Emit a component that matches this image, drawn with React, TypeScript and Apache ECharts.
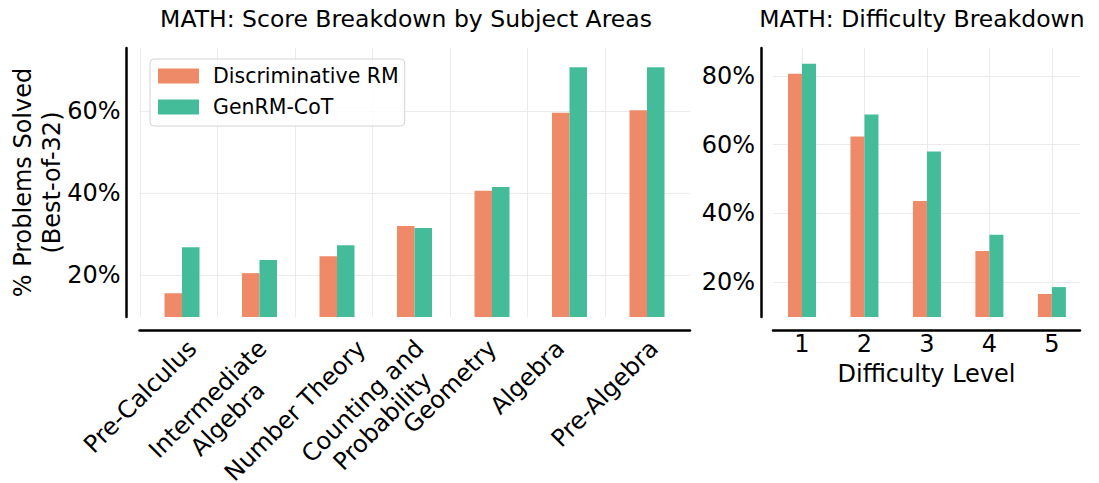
import React, { useEffect, useRef } from 'react';
import * as echarts from 'echarts';

// ---- data ----
const subjects = [
  'Pre-Calculus',
  'Intermediate\nAlgebra',
  'Number Theory',
  'Counting and\nProbability',
  'Geometry',
  'Algebra',
  'Pre-Algebra',
];
const subjectDiscRM = [15.6, 20.5, 24.6, 32.0, 40.6, 59.6, 60.2];
const subjectGenRM = [26.8, 23.7, 27.3, 31.5, 41.5, 70.7, 70.7];
const subjectTicks = [20, 40, 60];

const levels = ['1', '2', '3', '4', '5'];
const levelDiscRM = [80.6, 62.4, 43.6, 29.1, 16.6];
const levelGenRM = [83.5, 68.8, 58.0, 33.8, 18.6];
const levelTicks = [20, 40, 60, 80];

const seriesNames = ['Discriminative RM', 'GenRM-CoT'];
const titles = ['MATH: Score Breakdown by Subject Areas', 'MATH: Difficulty Breakdown'];

// ---- style ----
const FONT = '"DejaVu Sans"';
const ORANGE = '#EF8A68';
const GREEN = '#45BC99';
const GRID = '#ebebeb';
const TICK_FS = 24;
const LABEL_LH = 28;
const SUBJ_Y = [9.8, 75.4];
const LEVEL_Y = [9.9, 88.1];
const SUBJ_TICK_SHIFT = -0.545; // subject ticks sit left of the bar pairs

function measure(s: string, font: string): number {
  const ctx = document.createElement('canvas').getContext('2d');
  if (!ctx) return s.length * 12;
  ctx.font = font;
  return ctx.measureText(s).width;
}

export default function App() {
  const ref = useRef<HTMLDivElement>(null);
  useEffect(() => {
    if (!ref.current) return;
    const chart = echarts.init(ref.current, undefined, { renderer: 'svg' });

    const axisLine = { show: true, onZero: false, lineStyle: { color: '#000', width: 2.5 } };
    const labelStyle = { color: '#000', fontSize: TICK_FS, fontFamily: FONT };
    const subjectTickValues = subjects.map((_, i) => i + SUBJ_TICK_SHIFT);

    const option: any = {
      animation: false,
      backgroundColor: '#fff',
      title: [
        {
          text: titles[0], left: 406, top: 7, padding: 0, textAlign: 'center',
          textStyle: { fontSize: 23.5, fontWeight: 'normal', fontFamily: FONT, color: '#000' },
        },
        {
          text: titles[1], left: 922, top: 7, padding: 0, textAlign: 'center',
          textStyle: { fontSize: 23.5, fontWeight: 'normal', fontFamily: FONT, color: '#000' },
        },
      ],
      legend: {
        data: seriesNames,
        orient: 'vertical',
        left: 150,
        top: 59,
        icon: 'rect',
        itemWidth: 41,
        itemHeight: 15,
        itemGap: 10,
        padding: [6.5, 6, 8.5, 8],
        borderColor: '#d4d4d4',
        borderWidth: 1,
        borderRadius: 4,
        backgroundColor: 'rgba(255,255,255,0.8)',
        textStyle: { fontSize: 20.5, fontFamily: FONT, color: '#000', padding: [0, 0, 0, 9] },
      },
      grid: [
        // 0: left frame (spines, grid lines, y labels)
        { left: 139, width: 551, top: 48, height: 269 },
        // 1: left bars
        { left: 143.25, width: 542.5, top: 48, height: 269 },
        // 2: right frame
        { left: 773, width: 307, top: 48, height: 269 },
        // 3: right bars
        { left: 770.76, width: 312.36, top: 48, height: 269 },
      ],
      xAxis: [
        {
          gridIndex: 0, type: 'value', min: -0.555, max: 6.555, offset: 13,
          axisLine,
          axisTick: { show: false, customValues: subjectTickValues },
          axisLabel: { show: false },
          splitLine: { show: true, lineStyle: { color: GRID, width: 1 } },
        },
        { gridIndex: 1, type: 'category', data: subjects, show: false },
        {
          gridIndex: 2, type: 'value', min: 0.536, max: 5.45, offset: 13,
          axisLine,
          axisTick: { show: false, customValues: levels.map(Number) },
          axisLabel: { ...labelStyle, customValues: levels.map(Number), margin: 2 },
          splitLine: { show: true, lineStyle: { color: GRID, width: 1 } },
          name: 'Difficulty Level', nameLocation: 'middle', nameGap: 32, nameMoveOverlap: false,
          nameTextStyle: { ...labelStyle },
        },
        { gridIndex: 3, type: 'category', data: levels, show: false },
      ],
      yAxis: [
        {
          gridIndex: 0, type: 'value', min: SUBJ_Y[0], max: SUBJ_Y[1], offset: 13,
          axisLine,
          axisTick: { show: false, customValues: subjectTicks },
          axisLabel: { ...labelStyle, customValues: subjectTicks, formatter: '{value}%', margin: 6 },
          splitLine: { show: true, lineStyle: { color: GRID, width: 1 } },
          name: '% Problems Solved\n(Best-of-32)', nameLocation: 'middle', nameRotate: 90,
          nameGap: 60.5, nameMoveOverlap: false,
          nameTextStyle: { ...labelStyle, lineHeight: 29, align: 'center' },
        },
        { gridIndex: 1, type: 'value', min: SUBJ_Y[0], max: SUBJ_Y[1], startValue: SUBJ_Y[0], show: false },
        {
          gridIndex: 2, type: 'value', min: LEVEL_Y[0], max: LEVEL_Y[1], offset: 12,
          axisLine,
          axisTick: { show: false, customValues: levelTicks },
          axisLabel: { ...labelStyle, customValues: levelTicks, formatter: '{value}%', margin: 6 },
          splitLine: { show: true, lineStyle: { color: GRID, width: 1 } },
        },
        { gridIndex: 3, type: 'value', min: LEVEL_Y[0], max: LEVEL_Y[1], startValue: LEVEL_Y[0], show: false },
      ],
      series: [
        {
          type: 'bar', name: seriesNames[0], xAxisIndex: 1, yAxisIndex: 1, clip: true,
          data: subjectDiscRM, barWidth: 17.5, barGap: '0%', itemStyle: { color: ORANGE },
        },
        {
          type: 'bar', name: seriesNames[1], xAxisIndex: 1, yAxisIndex: 1, clip: true,
          data: subjectGenRM, barWidth: 17.5, barGap: '0%', itemStyle: { color: GREEN },
        },
        {
          type: 'bar', name: seriesNames[0], xAxisIndex: 3, yAxisIndex: 3, clip: true,
          data: levelDiscRM, barWidth: 14, barGap: '0%', itemStyle: { color: ORANGE },
        },
        {
          type: 'bar', name: seriesNames[1], xAxisIndex: 3, yAxisIndex: 3, clip: true,
          data: levelGenRM, barWidth: 14, barGap: '0%', itemStyle: { color: GREEN },
        },
      ],
    };
    chart.setOption(option);

    // Rotated subject tick labels (matplotlib style: rotated bounding box centred
    // on its tick, top of the box just under the spine). Positions come from the axes.
    const spineY = (chart.convertToPixel({ yAxisIndex: 0 }, SUBJ_Y[0]) as number) + 13;
    const pad = 4.5;
    const labels = subjects.map((s, i) => {
      const lines = s.split('\n');
      const w = Math.max(...lines.map((l) => measure(l, `${TICK_FS}px ${FONT}`)));
      const h = lines.length * LABEL_LH;
      const tx = chart.convertToPixel({ xAxisIndex: 0 }, subjectTickValues[i]) as number;
      const half = ((w + h) * Math.SQRT1_2) / 2;
      return {
        type: 'text',
        x: tx,
        y: spineY + pad + half,
        rotation: Math.PI / 4,
        silent: true,
        style: {
          text: s,
          align: 'center',
          verticalAlign: 'middle',
          fontSize: TICK_FS,
          fontFamily: FONT,
          lineHeight: LABEL_LH,
          fill: '#000',
        },
      };
    });
    chart.setOption({ graphic: labels });

    return () => chart.dispose();
  }, []);
  return (
    <div
      ref={ref}
      style={{ position: 'fixed', left: 0, top: 0, width: 1099, height: 483, background: '#fff' }}
    />
  );
}
